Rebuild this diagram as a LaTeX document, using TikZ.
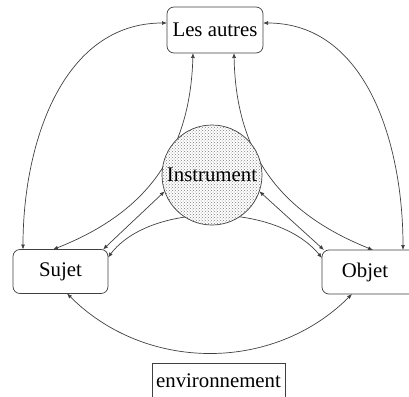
\documentclass[tikz,border=0pt]{standalone}
\usepackage{fontspec}
\setmainfont{Liberation Serif}
\usetikzlibrary{arrows.meta,patterns}
\pgfdeclarelayer{background}
\pgfsetlayers{background,main}
\begin{document}
\begin{tikzpicture}[x=1pt,y=-1pt,
  every node/.style={font=\fontsize{20.8}{24}\selectfont, outer sep=0pt, inner sep=0pt},
  box/.style={draw=black!75, line width=0.7pt, rounded corners=7pt, fill=white},
  plainbox/.style={draw=black!75, line width=0.7pt, fill=white},
  link/.style={draw=black!75, line width=0.7pt, >={Latex[length=5pt,width=4pt]}, <->}]
\clip (0,0) rectangle (409,396);
\useasboundingbox (0,0) rectangle (409,396);

\node[box, minimum width=96pt, minimum height=46pt] (autres) at (215,30) {Les autres};
\node[circle, draw=black!75, line width=0.7pt, minimum size=100pt,
      preaction={fill=white}, pattern=crosshatch dots, pattern color=black!50] (instr) at (212,175) {Instrument};
\node[box, minimum width=95pt, minimum height=44pt] (sujet) at (60.5,271.5) {Sujet};
\node[box, minimum width=94pt, minimum height=44pt] (objet) at (369,272) {};
\node (objettext) at (365,272) {Objet};
\node[plainbox, minimum width=133pt, minimum height=36pt] (env) at (218.5,381) {environnement};

\begin{pgfonlayer}{background}
\draw[link] ([yshift=7pt]autres.west) to[out=180,in=90] ([xshift=10pt]sujet.north west);
\draw[link] ([yshift=7pt]autres.east) to[out=0,in=90] ([xshift=34pt]objet.north);
\draw[link] ([xshift=6.5pt]sujet.south) to[out=-45,in=-135] ([xshift=-17pt]objet.south);
\draw[link] ([xshift=-22pt]autres.south) .. controls (190,160) and (140,215) .. ([xshift=-7.5pt]sujet.north);
\draw[link] ([xshift=19pt]autres.south) .. controls (236,160) and (286,215) .. ([xshift=4pt]objet.north);
\draw[link] ([yshift=14pt]sujet.east) .. controls (150,202) and (276,202) .. ([yshift=14pt]objet.west);
\draw[link] (instr.199) -- ([xshift=-5pt]sujet.north east);
\draw[link] (instr.-19) -- ([xshift=2pt]objet.north west);
\end{pgfonlayer}
\end{tikzpicture}
\end{document}
